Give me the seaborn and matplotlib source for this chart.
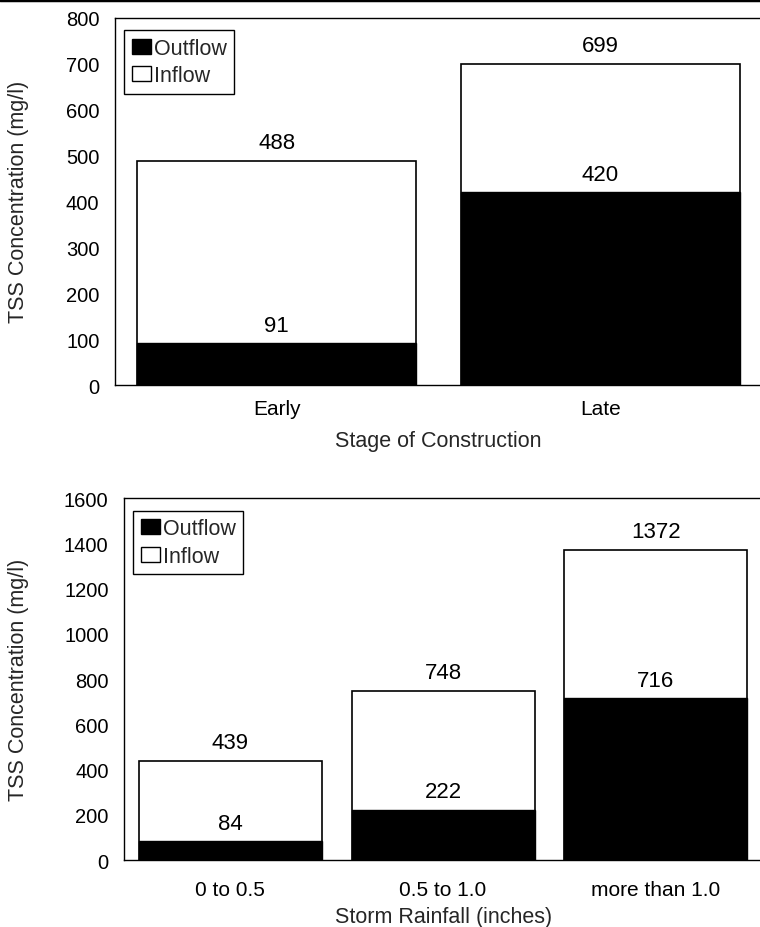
import numpy as np
import pandas as pd
import matplotlib
matplotlib.use("Agg")
import matplotlib.pyplot as plt
import seaborn as sns
from matplotlib.patches import Patch
from matplotlib.lines import Line2D

# datos
stage_cats = ["Early", "Late"]
stage_inflow = [488, 699]
stage_outflow = [91, 420]

rain_cats = ["0 to 0.5", "0.5 to 1.0", "more than 1.0"]
rain_inflow = [439, 748, 1372]
rain_outflow = [84, 222, 716]

sns.set_theme(style="white")
plt.rcParams["font.family"] = ["Liberation Sans", "DejaVu Sans"]
plt.rcParams["font.size"] = 14


def tss_panel(ax, cats, inflow, outflow, ymax, step, xlabel, xpad, labpad):
    df = pd.DataFrame({"cat": cats, "Inflow": inflow, "Outflow": outflow})
    # inflow detras (blanco), outflow delante (negro)
    sns.barplot(data=df, x="cat", y="Inflow", color="white", edgecolor="black",
                linewidth=1.2, width=0.86, saturation=1, ax=ax)
    sns.barplot(data=df, x="cat", y="Outflow", color="black", edgecolor="black",
                linewidth=1.0, width=0.86, saturation=1, ax=ax)

    for i, (vin, vout) in enumerate(zip(inflow, outflow)):
        ax.annotate(f"{vin}", (i, vin), xytext=(0, 13), textcoords="offset points",
                    ha="center", va="center", fontsize=16, color="black")
        ax.annotate(f"{vout}", (i, vout), xytext=(0, 13), textcoords="offset points",
                    ha="center", va="center", fontsize=16, color="black")

    ax.set_ylim(0, ymax)
    ax.set_yticks(np.arange(0, ymax + 1, step))
    ax.set_xlim(-0.5, len(cats) - 0.5)
    ax.set_xlabel(xlabel, fontsize=15.5, labelpad=labpad)
    ax.set_ylabel("TSS Concentration (mg/l)", fontsize=15.5)
    ax.tick_params(axis="x", labelsize=15, colors="black", length=0, pad=xpad)
    ax.tick_params(axis="y", labelsize=14.5, colors="black", length=0, pad=11)
    for s in ax.spines.values():
        s.set_visible(True)
        s.set_color("black")
        s.set_linewidth(1.0)

    handles = [Patch(facecolor="black", edgecolor="black", label="Outflow"),
               Patch(facecolor="white", edgecolor="black", label="Inflow")]
    leg = ax.legend(handles=handles, loc="upper left", bbox_to_anchor=(0.015, 0.965),
                    fontsize=15.5, handlelength=0.9, handleheight=0.7,
                    handletextpad=0.1, borderpad=0.35, labelspacing=0.3,
                    fancybox=False, framealpha=1, borderaxespad=0)
    leg.get_frame().set_edgecolor("black")
    leg.get_frame().set_linewidth(1.0)


fig = plt.figure(figsize=(7.6, 9.28), dpi=100)
ax1 = fig.add_axes([0.151, 0.584, 0.852, 0.396])
ax2 = fig.add_axes([0.163, 0.072, 0.840, 0.390])

tss_panel(ax1, stage_cats, stage_inflow, stage_outflow, 800, 100,
          "Stage of Construction", 10, 9)
tss_panel(ax2, rain_cats, rain_inflow, rain_outflow, 1600, 200,
          "Storm Rainfall (inches)", 14, 5)

# etiqueta del eje y en coordenadas de figura
for ax in (ax1, ax2):
    pos = ax.get_position()
    ax.yaxis.set_label_coords(0.038, (pos.y0 + pos.y1) / 2, transform=fig.transFigure)

# borde superior del escaneo
fig.add_artist(Line2D([0, 1], [0.999, 0.999], color="black", linewidth=2.5,
                      transform=fig.transFigure))

fig.savefig("out.png", dpi=100, facecolor="white")
